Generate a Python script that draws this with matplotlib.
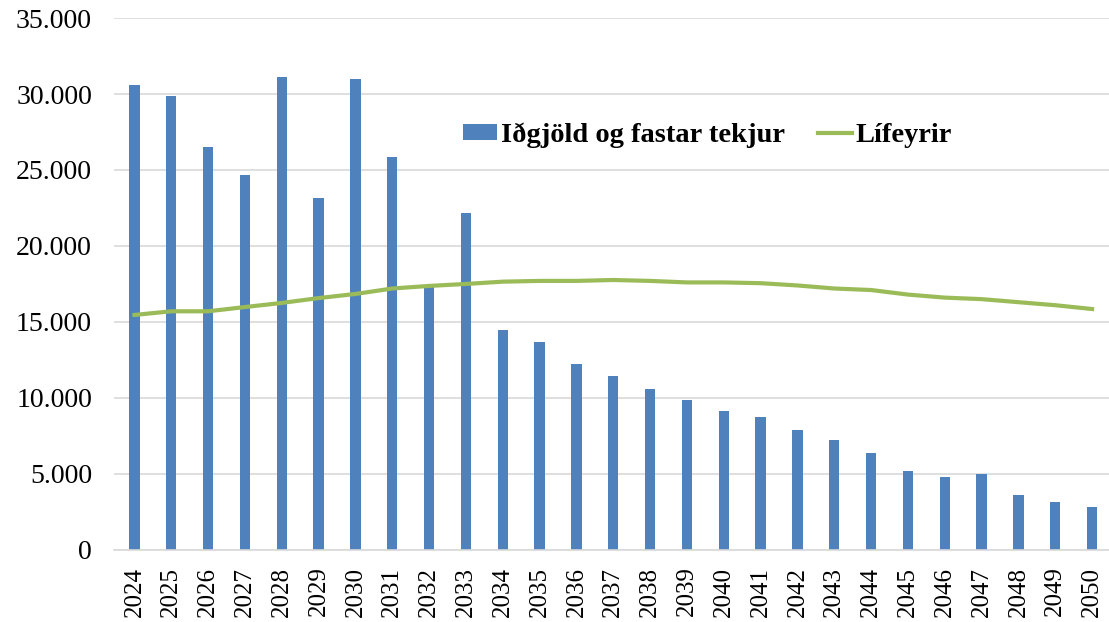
import matplotlib.pyplot as plt
from matplotlib.ticker import FuncFormatter

years = list(range(2024, 2051))
idgjold = [30600, 29850, 26500, 24700, 31100, 23150, 31000, 25850, 17400, 22200,
           14500, 13700, 12200, 11450, 10600, 9870, 9140, 8750, 7900, 7240,
           6380, 5200, 4800, 5000, 3620, 3160, 2830]
lifeyrir = [15460, 15700, 15700, 15980, 16250, 16570, 16840, 17200, 17370, 17500,
            17650, 17700, 17700, 17760, 17700, 17600, 17600, 17550, 17400, 17200,
            17100, 16800, 16600, 16500, 16300, 16100, 15850]

plt.rcParams['font.family'] = ['Liberation Serif', 'DejaVu Serif']

fig = plt.figure(figsize=(11.09, 6.22), dpi=100)
ax = fig.add_axes([0.103, 0.116, 0.9, 0.855])

x = list(range(len(years)))
bars = ax.bar(x, idgjold, width=0.28, color='#4F81BD', label='Iðgjöld og fastar tekjur', zorder=2)
line, = ax.plot(x, lifeyrir, color='#9BBB59', linewidth=3, label='Lífeyrir', zorder=3)

ax.set_ylim(0, 35000)
ax.set_xlim(-0.55, len(years) - 0.45)
ax.set_yticks(range(0, 35001, 5000))
ax.yaxis.set_major_formatter(FuncFormatter(lambda v, p: f'{int(v):,}'.replace(',', '.')))
ax.set_xticks(x)
ax.set_xticklabels([str(y) for y in years], rotation=90, fontsize=18)
ax.tick_params(axis='y', labelsize=20, length=0, pad=16)
ax.tick_params(axis='x', length=0, pad=12)
ax.grid(axis='y', color='#D9D9D9', linewidth=1.2, zorder=0)
ax.set_axisbelow(True)
for s in ['left', 'right', 'top']:
    ax.spines[s].set_visible(False)
ax.spines['bottom'].set_color('#D9D9D9')
ax.spines['bottom'].set_linewidth(1.2)

ax.legend([bars, line], ['Iðgjöld og fastar tekjur', 'Lífeyrir'],
          loc='center left', bbox_to_anchor=(0.324, 0.78), ncol=2, frameon=False,
          prop={'weight': 'bold', 'size': 20.5}, handlelength=1.2, handleheight=0.5,
          columnspacing=1.15, handletextpad=0.12)

fig.savefig('out.png', dpi=100)
